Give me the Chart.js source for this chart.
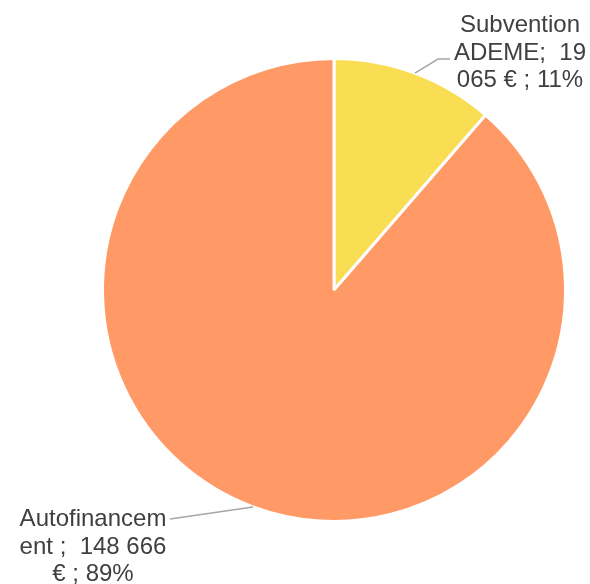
<!DOCTYPE html>
<html>
<head>
<meta charset="utf-8">
<script src="https://cdn.jsdelivr.net/npm/chart.js@4/dist/chart.umd.min.js"></script>
<style>
html,body{margin:0;padding:0;background:#fff;}
#wrap{width:590px;height:584px;position:relative;}
</style>
</head>
<body>
<div id="wrap"><canvas id="c" width="590" height="584"></canvas></div>
<script>
const categories = ['Subvention ADEME', 'Autofinancement'];
const values = [19065, 148666];
const colors = ['#F9DD52', '#FF9966'];
const labelLines = [
  ['Subvention', 'ADEME;  19', '065 € ; 11%'],
  ['Autofinancem', 'ent ;  148 666', '€ ; 89%']
];

// layout of the outside labels (text centre x, first baseline y, elbow points)
const labelLayout = [
  {tx: 520, ty: 32, elbow: [[438, 59], [450, 59]]},
  {tx: 93, ty: 526, elbow: [[170, 519]]}
];

const outLabels = {
  id: 'outLabels',
  afterDatasetsDraw(chart) {
    const ctx = chart.ctx;
    const meta = chart.getDatasetMeta(0);
    ctx.save();
    meta.data.forEach((arc, i) => {
      const p = arc.getProps(['x', 'y', 'startAngle', 'endAngle', 'outerRadius'], true);
      const mid = (p.startAngle + p.endAngle) / 2;
      const ax = p.x + Math.cos(mid) * p.outerRadius;
      const ay = p.y + Math.sin(mid) * p.outerRadius;
      const L = labelLayout[i];
      ctx.strokeStyle = '#A6A6A6';
      ctx.lineWidth = 1.5;
      ctx.beginPath();
      ctx.moveTo(ax, ay);
      L.elbow.forEach(pt => ctx.lineTo(pt[0], pt[1]));
      ctx.stroke();
      ctx.fillStyle = '#404040';
      ctx.font = '24px "Liberation Sans", Arial, sans-serif';
      ctx.textAlign = 'center';
      ctx.textBaseline = 'alphabetic';
      labelLines[i].forEach((t, k) => ctx.fillText(t, L.tx, L.ty + k * 27.5));
    });
    ctx.restore();
  }
};

new Chart(document.getElementById('c'), {
  type: 'pie',
  data: {
    labels: categories,
    datasets: [{
      data: values,
      backgroundColor: colors,
      borderColor: '#FFFFFF',
      borderWidth: 3
    }]
  },
  options: {
    responsive: false,
    animation: false,
    events: [],
    layout: {padding: {left: 101, right: 23, top: 57, bottom: 61}},
    plugins: {
      legend: {display: false},
      tooltip: {enabled: false}
    }
  },
  plugins: [outLabels]
});
</script>
</body>
</html>
